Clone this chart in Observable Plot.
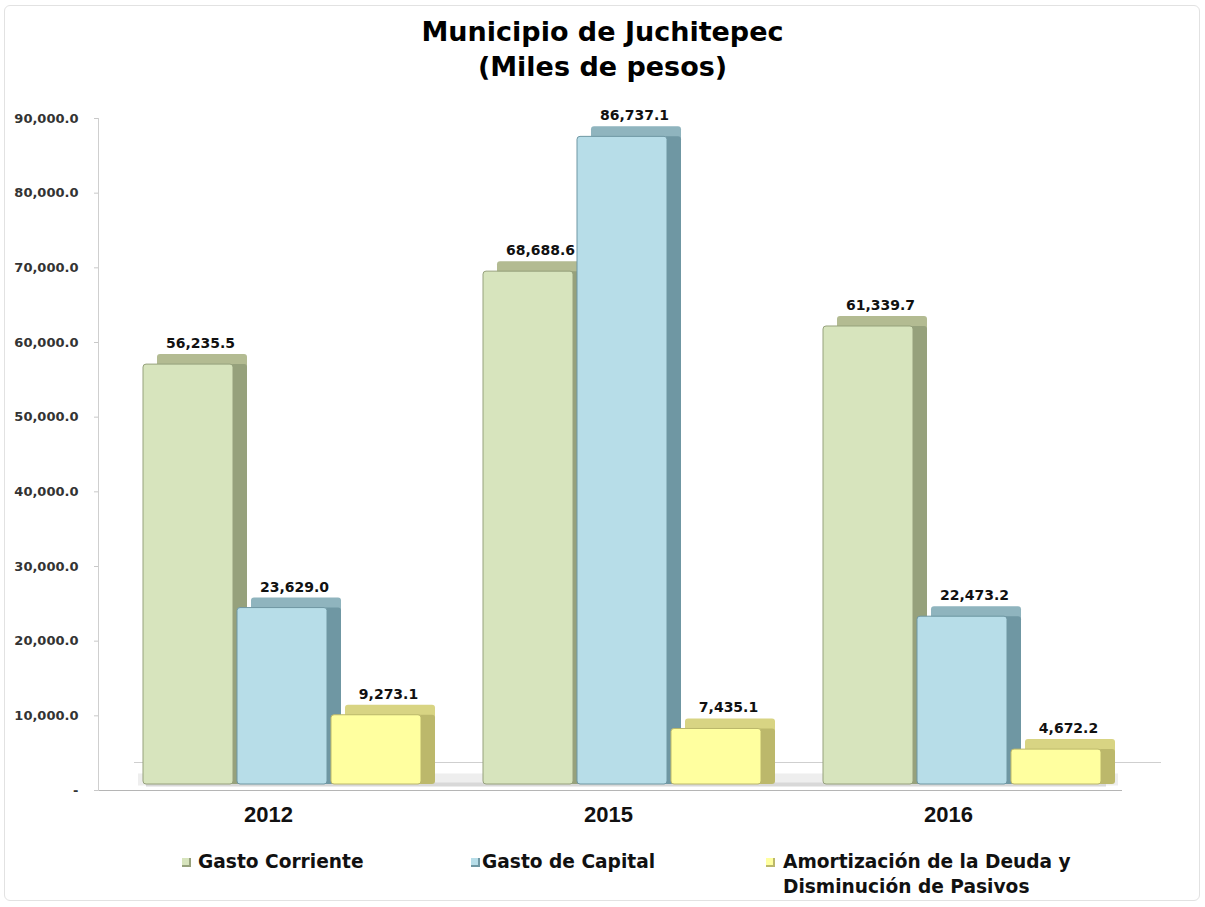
<!DOCTYPE html>
<html><head><meta charset="utf-8">
<script src="https://cdn.jsdelivr.net/npm/d3@7"></script>
<script src="https://cdn.jsdelivr.net/npm/@observablehq/plot@0.6"></script>
<style>
body{margin:0;background:#fff;font-family:"DejaVu Sans",Verdana,sans-serif;}
#wrap{position:relative;width:1205px;height:907px;overflow:hidden;background:#fff}
#border{position:absolute;left:4px;top:5px;width:1194px;height:894px;border:1px solid #e2e2e2;border-radius:6px}
#title{position:absolute;top:14px;left:0;width:1205px;text-align:center;font-weight:bold;font-size:27px;line-height:35px;color:#000}
#chart{position:absolute;top:90px;left:0}
#chart svg [aria-label="y-axis tick"]{stroke:#c8c8c8}
.legtext{position:absolute;font-weight:bold;font-size:18.6px;line-height:25px;color:#111;white-space:nowrap}
.sw{position:absolute;width:7px;height:7px;border-style:solid;border-width:0 2px 2px 0}
</style></head>
<body>
<div id="wrap">
  <div id="border"></div>
  <div id="title">Municipio de Juchitepec<br>(Miles de pesos)</div>
  <div id="chart"></div>
  <div id="legend"></div>
</div>
<script>
const years = ["2012", "2015", "2016"];
const series = ["Gasto Corriente", "Gasto de Capital", "Amortización de la Deuda y Disminución de Pasivos"];
const gastoCorriente = [56235.5, 68688.6, 61339.7];
const gastoCapital = [23629.0, 86737.1, 22473.2];
const amortizacion = [9273.1, 7435.1, 4672.2];
const yTicks = [0, 10000, 20000, 30000, 40000, 50000, 60000, 70000, 80000, 90000];

const frontColors = ["#d7e4bd", "#b7dde8", "#ffff9f"];
const sideColors = ["#96a17c", "#6f97a3", "#bcb86b"];
const topColors = ["#b3bb92", "#8fb4be", "#d8d483"];
const offsets = [-94, 0, 94];

const valuesBySeries = [gastoCorriente, gastoCapital, amortizacion];
const data = series.flatMap((s, i) => years.map((y, j) => ({year: y, series: s, idx: i, value: valuesBySeries[i][j]})));
const fmt = d3.format(",.1f");

const inset = 111;
const marks = [
  Plot.ruleY([0], {stroke: "#eeeeee", strokeWidth: 12, dy: -11, dx: 16, insetLeft: 24, insetRight: 44}),
  Plot.ruleY([0], {stroke: "#d8d8d8", strokeWidth: 4, dy: -6, dx: 14, insetLeft: 34, insetRight: 54}),
  Plot.ruleY([0], {stroke: "#b5b5b5", insetRight: 24}),
  Plot.ruleY([0], {stroke: "#cfcfcf", dx: 36, dy: -28, insetRight: 21}),
  Plot.frame({anchor: "left", stroke: "#cfcfcf"})
];
series.forEach((s, i) => {
  const sub = data.filter(d => d.idx === i);
  marks.push(
    Plot.barY(sub, {x: "year", y: "value", fill: topColors[i], dx: offsets[i] + 14, dy: -16, insetLeft: inset, insetRight: inset, rx: 3}),
    Plot.barY(sub, {x: "year", y: "value", fill: sideColors[i], dx: offsets[i] + 14, dy: -6, insetLeft: inset, insetRight: inset, rx: 3}),
    Plot.barY(sub, {x: "year", y: "value", fill: frontColors[i], stroke: sideColors[i], strokeWidth: 1, dx: offsets[i], dy: -6, insetLeft: inset, insetRight: inset, rx: 3})
  );
});
series.forEach((s, i) => {
  const sub = data.filter(d => d.idx === i);
  marks.push(
    Plot.text(sub, {x: "year", y: "value", text: d => fmt(d.value), dx: offsets[i] + 12, dy: -27, fontSize: 14, fontWeight: "bold", fill: "#111"})
  );
});
marks.push(
  Plot.axisY({ticks: yTicks, tickFormat: d => d === 0 ? "-" : fmt(d), tickSize: 4, tickPadding: 16, fontSize: 13, fontWeight: "bold", label: null, color: "#333"}),
  Plot.axisX({tickSize: 0, tickPadding: 16, dx: -14, fontSize: 22, fontWeight: "bold", fontFamily: "'Liberation Sans', Arial, sans-serif", label: null, color: "#111"})
);

const chart = Plot.plot({
  width: 1205, height: 740,
  marginLeft: 98, marginRight: 59, marginTop: 28, marginBottom: 40,
  style: {fontFamily: "'DejaVu Sans', Verdana, sans-serif", background: "transparent", overflow: "visible"},
  x: {domain: years, padding: 0.082},
  y: {domain: [0, 90000]},
  marks
});
document.getElementById("chart").appendChild(chart);

// legend
const legendPos = [{sx: 182, tx: 198}, {sx: 471, tx: 482}, {sx: 766, tx: 783}];
const legendLines = [["Gasto Corriente"], ["Gasto de Capital"], ["Amortización de la Deuda y", "Disminución de Pasivos"]];
const leg = document.getElementById("legend");
series.forEach((s, i) => {
  const sw = document.createElement("div");
  sw.className = "sw";
  sw.style.left = legendPos[i].sx + "px";
  sw.style.top = "858px";
  sw.style.background = frontColors[i];
  sw.style.borderColor = sideColors[i];
  leg.appendChild(sw);
  const t = document.createElement("div");
  t.className = "legtext";
  t.style.left = legendPos[i].tx + "px";
  t.style.top = "849px";
  t.innerHTML = legendLines[i].join("<br>");
  leg.appendChild(t);
});
</script>
</body></html>
